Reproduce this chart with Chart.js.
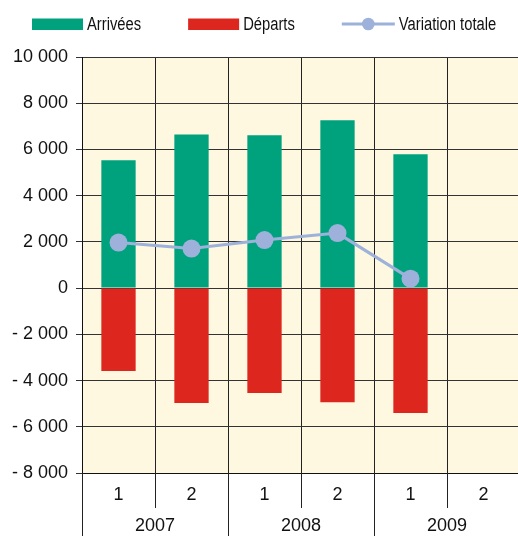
<!DOCTYPE html>
<html>
<head>
<meta charset="utf-8">
<script src="https://cdn.jsdelivr.net/npm/chart.js@4/dist/chart.umd.min.js"></script>
<style>
html,body{margin:0;padding:0;background:#fff;overflow:hidden;}
#wrap{position:relative;width:520px;height:536px;}
</style>
</head>
<body>
<div id="wrap"><canvas id="c"></canvas></div>
<script>
// ---- data ----
const categories = ['1', '2', '1', '2', '1', '2'];
const years = ['2007', '2008', '2009'];
const arrivals = [5530, 6650, 6610, 7260, 5790, null];
const departures = [-3590, -4970, -4540, -4940, -5400, null];
const totalVariation = [1970, 1710, 2080, 2380, 410, null];
const seriesNames = ['Arrivées', 'Départs', 'Variation totale'];
const yMin = -8000, yMax = 10000, yStep = 2000;

const GREEN = '#00A27E';
const RED = '#DC261E';
const BLUE = '#9DB1DA';
const BG = '#FEF8E1';
const TICK_FONT = {family: '"Liberation Sans", Arial, sans-serif', size: 18};
const LEGEND_FONT = '18px "Liberation Sans", Arial, sans-serif';
const LEGEND_SQUEEZE = 0.82; // narrow face emulation

function fmt(v) {
  const s = Math.abs(v).toString().replace(/\B(?=(\d{3})+(?!\d))/g, ' ');
  return v < 0 ? '- ' + s : s;
}

const bgPlugin = {
  id: 'plotBg',
  beforeDraw(chart) {
    const {ctx, chartArea: a} = chart;
    ctx.save();
    ctx.fillStyle = BG;
    ctx.fillRect(a.left, a.top, a.right - a.left, a.bottom - a.top);
    ctx.restore();
  }
};

const sepPlugin = {
  id: 'separators',
  afterDraw(chart) {
    const {ctx, chartArea: a} = chart;
    const xs = chart.scales.x;
    const bottom = chart.height;
    ctx.save();
    ctx.strokeStyle = '#222';
    ctx.lineWidth = 1;
    const lx = Math.round(a.left) + 0.5;
    ctx.beginPath(); ctx.moveTo(lx, a.bottom); ctx.lineTo(lx, bottom); ctx.stroke();
    for (let i = 1; i < categories.length; i++) {
      const x = Math.round((xs.getPixelForValue(i - 1) + xs.getPixelForValue(i)) / 2) + 0.5;
      const yearBoundary = (i % 2 === 0);
      ctx.beginPath();
      ctx.moveTo(x, a.bottom);
      ctx.lineTo(x, yearBoundary ? bottom : chart.scales.x2.top);
      ctx.stroke();
    }
    ctx.restore();
  }
};

const legendPlugin = {
  id: 'customLegend',
  afterDraw(chart) {
    const ctx = chart.ctx;
    ctx.save();
    ctx.font = LEGEND_FONT;
    ctx.textBaseline = 'alphabetic';
    const cy = 24, base = 30;
    let x = 32;
    const boxW = 51, gapText = 4, gapItem = 47;
    const kinds = ['bar', 'bar', 'line'];
    const colors = [GREEN, RED, BLUE];
    for (let i = 0; i < 3; i++) {
      let w = boxW;
      if (kinds[i] === 'bar') {
        ctx.fillStyle = colors[i];
        ctx.fillRect(x, 18.5, boxW, 11.5);
      } else {
        w = boxW + 2;
        ctx.strokeStyle = colors[i];
        ctx.lineWidth = 3;
        ctx.beginPath(); ctx.moveTo(x, cy); ctx.lineTo(x + w, cy); ctx.stroke();
        ctx.fillStyle = colors[i];
        ctx.beginPath(); ctx.arc(x + w / 2, cy, 6.3, 0, Math.PI * 2); ctx.fill();
      }
      const tx = x + w + gapText;
      ctx.fillStyle = '#111';
      ctx.save();
      ctx.translate(tx, base);
      ctx.scale(LEGEND_SQUEEZE, 1);
      ctx.fillText(seriesNames[i], 0, 0);
      ctx.restore();
      x = tx + ctx.measureText(seriesNames[i]).width * LEGEND_SQUEEZE + gapItem;
    }
    ctx.restore();
  }
};

function noSidePad(s) { s.paddingLeft = 0; s.paddingRight = 0; }

new Chart(document.getElementById('c'), {
  data: {
    labels: categories,
    datasets: [
      {
        type: 'line', label: seriesNames[2], data: totalVariation,
        borderColor: BLUE, backgroundColor: BLUE, borderWidth: 3,
        pointRadius: 9, pointHoverRadius: 9, pointBorderWidth: 0,
        pointBackgroundColor: BLUE, stack: 'line', order: 0, spanGaps: false
      },
      {
        type: 'bar', label: seriesNames[0], data: arrivals,
        backgroundColor: GREEN, stack: 'bars', order: 1,
        barPercentage: 0.47, categoryPercentage: 1
      },
      {
        type: 'bar', label: seriesNames[1], data: departures,
        backgroundColor: RED, stack: 'bars', order: 1,
        barPercentage: 0.47, categoryPercentage: 1
      }
    ]
  },
  options: {
    responsive: true,
    maintainAspectRatio: false,
    animation: false,
    layout: {autoPadding: false, padding: {top: 57, left: 0, right: 0, bottom: 0}},
    plugins: {legend: {display: false}, tooltip: {enabled: false}},
    scales: {
      x: {
        type: 'category', position: 'bottom', stacked: true, offset: true,
        grid: {offset: true, color: '#222', lineWidth: 1, drawTicks: false},
        border: {display: true, color: '#111', width: 1},
        ticks: {font: TICK_FONT, color: '#111', padding: 11, maxRotation: 0, autoSkip: false},
        afterFit(s) { s.height = 35; noSidePad(s); }
      },
      x2: {
        type: 'category', position: 'bottom', labels: years, offset: true,
        grid: {display: false, drawTicks: false},
        border: {display: false},
        ticks: {font: TICK_FONT, color: '#111', padding: 7, maxRotation: 0, autoSkip: false},
        afterFit(s) { s.height = 28; noSidePad(s); }
      },
      y: {
        stacked: true, min: yMin, max: yMax,
        grid: {color: '#333', lineWidth: 1, tickLength: 6, drawTicks: true},
        border: {display: true, color: '#111', width: 1},
        ticks: {stepSize: yStep, font: TICK_FONT, color: '#111', padding: 8, callback: v => fmt(v)},
        afterFit(s) { s.width = 82; s.paddingTop = 0; s.paddingBottom = 0; }
      }
    }
  },
  plugins: [bgPlugin, sepPlugin, legendPlugin]
});
</script>
</body>
</html>
